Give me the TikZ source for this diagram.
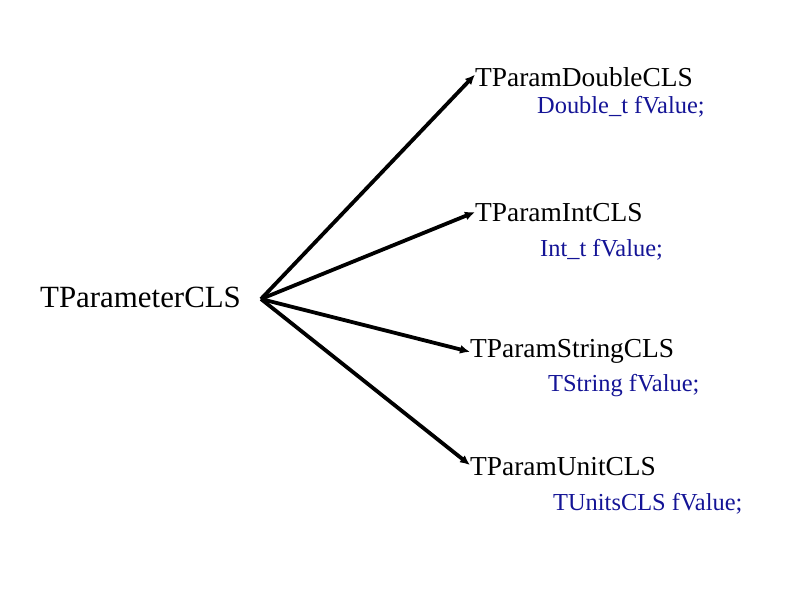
\documentclass[tikz,border=0pt]{standalone}
\usepackage{fontspec}
\setmainfont{Liberation Serif}
\usepackage{tikz}
\usetikzlibrary{arrows.meta,positioning}
\definecolor{fieldblue}{RGB}{20,20,150}

\begin{document}
\begin{tikzpicture}[x=1bp, y=-1bp,
    cls/.style={anchor=base west, inner sep=0pt, font=\fontsize{27.5}{33}\selectfont},
    field/.style={anchor=base west, inner sep=0pt, text=fieldblue, font=\fontsize{24.5}{29}\selectfont},
    inherit/.style={line width=3.8bp, -{Latex[length=10bp,width=9bp]}}]
  \useasboundingbox (0,0) rectangle (794,595);

  \node[cls, font=\fontsize{31}{37}\selectfont] (base) at (40,307) {TParameterCLS};
  \coordinate (hub) at (261,299);

  \node[cls] (dbl) at (475,87) {TParamDoubleCLS};
  \node[field] (dblval) at (537,114) {Double\_t fValue;};
  \node[cls] (int) at (475,222) {TParamIntCLS};
  \node[field] (intval) at (540,256) {Int\_t fValue;};
  \node[cls] (str) at (470,357) {TParamStringCLS};
  \node[field] (strval) at (548,391) {TString fValue;};
  \node[cls] (unit) at (470,475) {TParamUnitCLS};
  \node[field] (unitval) at (553,510) {TUnitsCLS fValue;};

  \draw[inherit] (hub) -- ([yshift=3bp]dbl.west);
  \draw[inherit] (hub) -- ([yshift=1bp]int.west);
  \draw[inherit] (hub) -- ([yshift=-1bp]str.west);
  \draw[inherit] (hub) -- ([yshift=1bp]unit.west);
\end{tikzpicture}
\end{document}
